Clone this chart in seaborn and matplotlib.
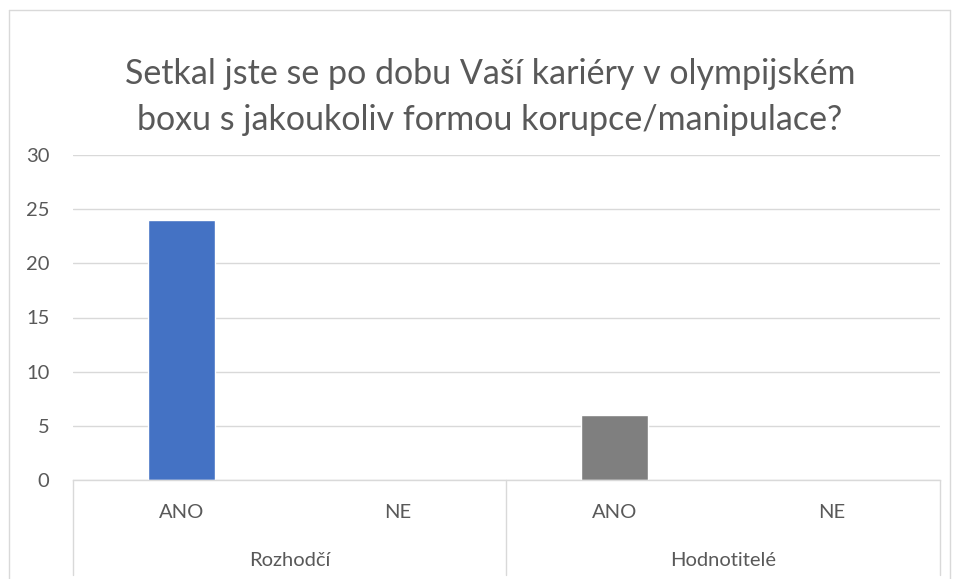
import numpy as np
import pandas as pd
import seaborn as sns
import matplotlib
matplotlib.use("Agg")
from matplotlib import pyplot as plt
from matplotlib.lines import Line2D
from matplotlib.transforms import blended_transform_factory

# data
groups = ["Rozhodčí", "Rozhodčí", "Hodnotitelé", "Hodnotitelé"]
answers = ["ANO", "NE", "ANO", "NE"]
counts = [24, 0, 6, 0]
group_colors = ["#4472C4", "#7F7F7F"]
title = "Setkal jste se po dobu Vaší kariéry v olympijském\nboxu s jakoukoliv formou korupce/manipulace?"

sns.set_theme(style="white")
plt.rcParams['font.family'] = ['Lato', 'DejaVu Sans']
text_col = "#595959"

df = pd.DataFrame({"group": groups, "answer": answers, "count": counts})
df["key"] = df["group"] + " " + df["answer"]

fig = plt.figure(figsize=(9.58, 5.79), dpi=100)
W, H = 958, 579
ax = fig.add_axes([73 / W, (H - 480) / H, (940 - 73) / W, (480 - 155) / H])

sns.barplot(data=df, x="key", y="count", hue="group", palette=group_colors,
            dodge=False, width=0.31, legend=False, ax=ax, saturation=1)

ax.set_ylim(0, 30)
ax.set_xlim(-0.5, 3.5)
ax.set_yticks(range(0, 31, 5))
ax.yaxis.grid(True, color="#D9D9D9", linewidth=1)
ax.set_axisbelow(True)
for s in ["top", "right", "left"]:
    ax.spines[s].set_visible(False)
ax.spines["bottom"].set_color("#D9D9D9")
ax.spines["bottom"].set_linewidth(1)
ax.set_xlabel("")
ax.set_ylabel("")
ax.set_xticks(range(len(answers)))
ax.set_xticklabels(answers)
ax.tick_params(axis="x", length=0, pad=17, labelsize=14.5, labelcolor=text_col)
ax.tick_params(axis="y", length=0, pad=17, labelsize=14.5, labelcolor=text_col)

# second level of category axis
trans = blended_transform_factory(ax.transData, ax.transAxes)
bot = -95 / 325
for xs in [-0.5, 1.5, 3.5]:
    ax.add_line(Line2D([xs, xs], [0, bot], transform=trans, color="#D9D9D9",
                       linewidth=1, clip_on=False))
for i, g in enumerate(["Rozhodčí", "Hodnotitelé"]):
    ax.text(2 * i + 0.5, -80 / 325, g, transform=trans, ha="center", va="center",
            fontsize=14.5, color=text_col)

fig.text(490 / W, 1 - 97 / H, title, ha="center", va="center", fontsize=24.5,
         color=text_col, linespacing=1.55)

# chart border
for xs, ys in [([9, 9], [10, 579]), ([9, 950], [10, 10]), ([950, 950], [10, 579])]:
    fig.add_artist(Line2D([x / W for x in xs], [1 - y / H for y in ys],
                          color="#D9D9D9", linewidth=1))

fig.savefig("out.png", dpi=100, facecolor="white")
